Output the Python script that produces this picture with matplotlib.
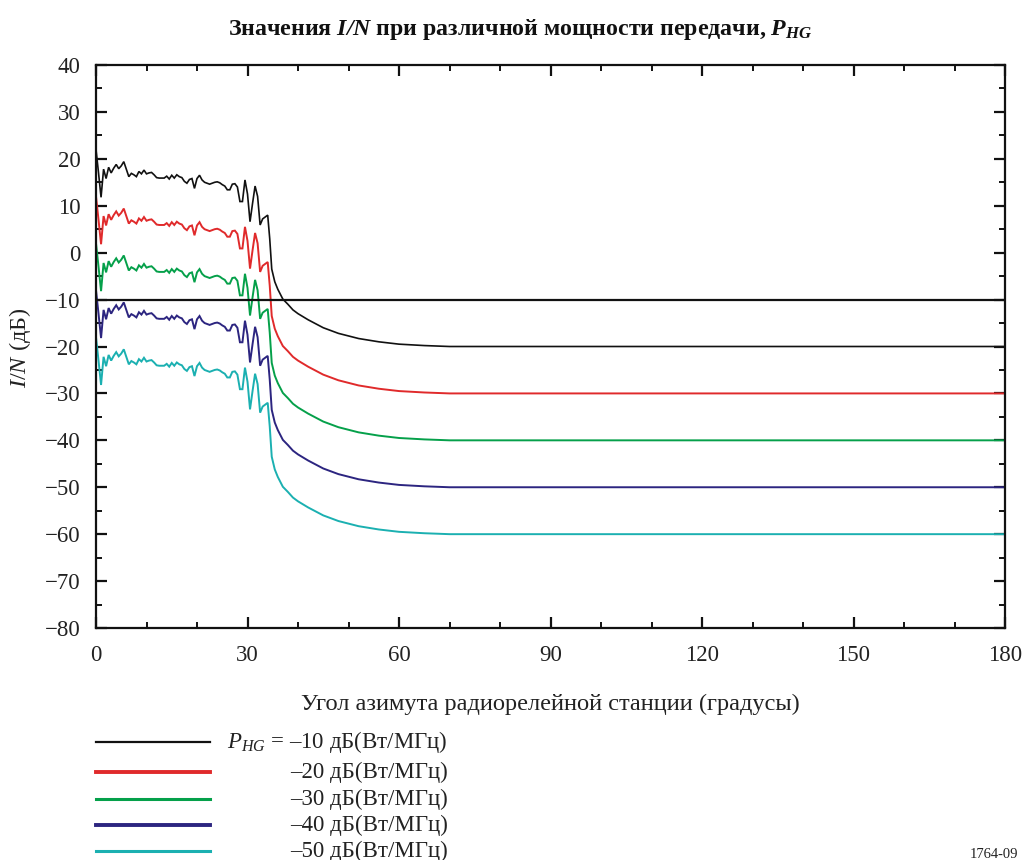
import matplotlib
matplotlib.use("Agg")
import matplotlib.pyplot as plt
from matplotlib.lines import Line2D
from matplotlib.ticker import MultipleLocator

plt.rcParams['font.family'] = ['Liberation Serif', 'DejaVu Serif']
plt.rcParams['mathtext.fontset'] = 'custom'
plt.rcParams['mathtext.rm'] = 'Liberation Serif'
plt.rcParams['mathtext.it'] = 'Liberation Serif:italic'
plt.rcParams['mathtext.bf'] = 'Liberation Serif:bold'
plt.rcParams['mathtext.bfit'] = 'Liberation Serif:italic:bold'

# ---- data -------------------------------------------------------------
azimuth = [0.0, 0.5, 1.0, 1.5, 2.0, 2.5, 3.0, 3.5, 4.0, 4.5, 5.0, 5.5, 6.0, 6.5,
           7.0, 7.5, 8.0, 8.5, 9.0, 9.5, 10.0, 10.5, 11.0, 11.5, 12.0, 12.5, 13.0,
           13.5, 14.0, 14.5, 15.0, 15.5, 16.0, 16.5, 17.0, 17.5, 18.0, 18.5, 19.0,
           19.5, 20.0, 20.5, 21.0, 21.5, 22.0, 22.5, 23.0, 23.5, 24.0, 24.5, 25.0,
           25.5, 26.0, 26.5, 27.0, 27.5, 28.0, 28.5, 29.0, 29.5, 30.0, 30.5, 31.0,
           31.5, 32.0, 32.5, 33.0, 33.5, 34.0,
           34.4, 34.8, 35.4, 36, 37, 38, 39, 40, 42, 45, 48, 52, 56, 60, 65, 70, 75, 180]

in_m10 = [22.0, 17.0, 11.8, 17.8, 15.8, 18.2, 17.0, 18.0, 18.8, 17.9, 18.5, 19.4, 17.8, 16.2,
          16.9, 16.6, 16.2, 17.3, 16.8, 17.6, 16.8, 17.0, 17.1, 16.6, 16.0, 15.9, 15.9,
          15.9, 16.3, 15.7, 16.5, 15.9, 16.6, 16.2, 16.0, 15.2, 14.8, 15.6, 15.8,
          13.7, 15.8, 16.5, 15.5, 15.0, 14.8, 14.6, 14.8, 15.0, 15.1, 14.9, 14.5,
          14.2, 13.4, 13.4, 14.6, 14.7, 14.0, 10.9, 10.9, 15.5, 12.5, 6.6, 10.5,
          14.2, 12.0, 5.9, 7.2, 7.6, 8.0,
          3.0, -3.5, -6.2, -7.8, -9.9, -11.0, -12.2, -13.0, -14.3, -16.0, -17.2, -18.3,
          -19.0, -19.5, -19.8, -20.0, -20.0, -20.0]

in_m20 = [12.0, 7.0, 1.8, 7.8, 5.8, 8.2, 7.0, 8.0, 8.8, 7.9, 8.5, 9.4, 7.8, 6.2,
          6.9, 6.6, 6.2, 7.3, 6.8, 7.6, 6.8, 7.0, 7.1, 6.6, 6.0, 5.9, 5.9,
          5.9, 6.3, 5.7, 6.5, 5.9, 6.6, 6.2, 6.0, 5.2, 4.8, 5.6, 5.8,
          3.7, 5.8, 6.5, 5.5, 5.0, 4.8, 4.6, 4.8, 5.0, 5.1, 4.9, 4.5,
          4.2, 3.4, 3.4, 4.6, 4.7, 4.0, 0.9, 0.9, 5.5, 2.5, -3.4, 0.5,
          4.2, 2.0, -4.1, -2.8, -2.4, -2.0,
          -7.0, -13.5, -16.2, -17.8, -19.9, -21.0, -22.2, -23.0, -24.3, -26.0, -27.2, -28.3,
          -29.0, -29.5, -29.8, -30.0, -30.0, -30.0]

in_m30 = [2.0, -3.0, -8.2, -2.2, -4.2, -1.8, -3.0, -2.0, -1.2, -2.1, -1.5, -0.6, -2.2, -3.8,
          -3.1, -3.4, -3.8, -2.7, -3.2, -2.4, -3.2, -3.0, -2.9, -3.4, -4.0, -4.1, -4.1,
          -4.1, -3.7, -4.3, -3.5, -4.1, -3.4, -3.8, -4.0, -4.8, -5.2, -4.4, -4.2,
          -6.3, -4.2, -3.5, -4.5, -5.0, -5.2, -5.4, -5.2, -5.0, -4.9, -5.1, -5.5,
          -5.8, -6.6, -6.6, -5.4, -5.3, -6.0, -9.1, -9.1, -4.5, -7.5, -13.4, -9.5,
          -5.8, -8.0, -14.1, -12.8, -12.4, -12.0,
          -17.0, -23.5, -26.2, -27.8, -29.9, -31.0, -32.2, -33.0, -34.3, -36.0, -37.2, -38.3,
          -39.0, -39.5, -39.8, -40.0, -40.0, -40.0]

in_m40 = [-8.0, -13.0, -18.2, -12.2, -14.2, -11.8, -13.0, -12.0, -11.2, -12.1, -11.5, -10.6, -12.2, -13.8,
          -13.1, -13.4, -13.8, -12.7, -13.2, -12.4, -13.2, -13.0, -12.9, -13.4, -14.0, -14.1, -14.1,
          -14.1, -13.7, -14.3, -13.5, -14.1, -13.4, -13.8, -14.0, -14.8, -15.2, -14.4, -14.2,
          -16.3, -14.2, -13.5, -14.5, -15.0, -15.2, -15.4, -15.2, -15.0, -14.9, -15.1, -15.5,
          -15.8, -16.6, -16.6, -15.4, -15.3, -16.0, -19.1, -19.1, -14.5, -17.5, -23.4, -19.5,
          -15.8, -18.0, -24.1, -22.8, -22.4, -22.0,
          -27.0, -33.5, -36.2, -37.8, -39.9, -41.0, -42.2, -43.0, -44.3, -46.0, -47.2, -48.3,
          -49.0, -49.5, -49.8, -50.0, -50.0, -50.0]

in_m50 = [-18.0, -23.0, -28.2, -22.2, -24.2, -21.8, -23.0, -22.0, -21.2, -22.1, -21.5, -20.6, -22.2, -23.8,
          -23.1, -23.4, -23.8, -22.7, -23.2, -22.4, -23.2, -23.0, -22.9, -23.4, -24.0, -24.1, -24.1,
          -24.1, -23.7, -24.3, -23.5, -24.1, -23.4, -23.8, -24.0, -24.8, -25.2, -24.4, -24.2,
          -26.3, -24.2, -23.5, -24.5, -25.0, -25.2, -25.4, -25.2, -25.0, -24.9, -25.1, -25.5,
          -25.8, -26.6, -26.6, -25.4, -25.3, -26.0, -29.1, -29.1, -24.5, -27.5, -33.4, -29.5,
          -25.8, -28.0, -34.1, -32.8, -32.4, -32.0,
          -37.0, -43.5, -46.2, -47.8, -49.9, -51.0, -52.2, -53.0, -54.3, -56.0, -57.2, -58.3,
          -59.0, -59.5, -59.8, -60.0, -60.0, -60.0]

threshold = -10
series = [in_m10, in_m20, in_m30, in_m40, in_m50]
legend_labels = [r'$\mathit{P}_{\mathit{HG}}$ = –10 дБ(Вт/МГц)', '–20 дБ(Вт/МГц)',
                 '–30 дБ(Вт/МГц)', '–40 дБ(Вт/МГц)', '–50 дБ(Вт/МГц)']
colors = ['#111111', '#e02a2b', '#05a04a', '#2c2580', '#1bb0b1']
widths = [1.2, 1.4, 1.4, 1.4, 1.4]
legend_widths = [1.6, 2.8, 2.2, 2.8, 2.2]

x_ticks = [0, 30, 60, 90, 120, 150, 180]
y_ticks = [40, 30, 20, 10, 0, -10, -20, -30, -40, -50, -60, -70, -80]

# ---- figure -----------------------------------------------------------
W, H = 1027, 860
FS = 16.5
fig = plt.figure(figsize=(W / 100, H / 100), dpi=100)
ax = fig.add_axes([96 / W, 1 - 628 / H, (1005 - 96) / W, (628 - 65) / H])

for ys, c, lw in zip(series, colors, widths):
    ax.plot(azimuth, ys, color=c, lw=lw, solid_joinstyle='miter')
ax.axhline(threshold, color='#111111', lw=1.6)

ax.set_xlim(0, 180)
ax.set_ylim(-80, 40)
ax.set_xticks(x_ticks)
ax.set_yticks(y_ticks)
ax.xaxis.set_minor_locator(MultipleLocator(10))
ax.yaxis.set_minor_locator(MultipleLocator(5))
ax.tick_params(which='both', direction='in', top=True, right=True, colors='#111111',
               labelsize=FS, labelcolor='#222222')
ax.tick_params(which='major', length=8, width=1.6, pad=11)
ax.tick_params(which='minor', length=4, width=1.4)
ax.tick_params(axis='x', which='major', pad=12)
for s in ax.spines.values():
    s.set_linewidth(1.6)
    s.set_color('#111111')

ax.set_xlabel('Угол азимута радиорелейной станции (градусы)', fontsize=17.6,
              color='#222222', labelpad=20)
fig.text(20 / W, 1 - 348 / H, r'$\mathit{I/N}$ (дБ)', rotation=90, fontsize=FS + 1,
         color='#222222', ha='center', va='center')

fig.text(520 / W, 1 - 30 / H,
         r'Значения $\mathbfit{I/N}$ при различной мощности передачи, $\mathbfit{P}_{\mathbfit{HG}}$',
         fontsize=17.2, fontweight='bold', ha='center', va='center', color='#111111')

# ---- legend (drawn in figure coordinates) -----------------------------
leg_y = [742, 772, 799, 825, 851]
for yy, c, lw, lab in zip(leg_y, colors, legend_widths, legend_labels):
    fig.add_artist(Line2D([96 / W, 210 / W], [1 - yy / H, 1 - yy / H], color=c, lw=lw,
                          transform=fig.transFigure))
    fig.text(448 / W, 1 - yy / H, lab, fontsize=FS, ha='right', va='center',
             color='#222222')

fig.text(1018 / W, 1 - 854 / H, '1764-09', fontsize=10.5, ha='right', va='center',
         color='#222222')

fig.savefig('out.png', dpi=100)
